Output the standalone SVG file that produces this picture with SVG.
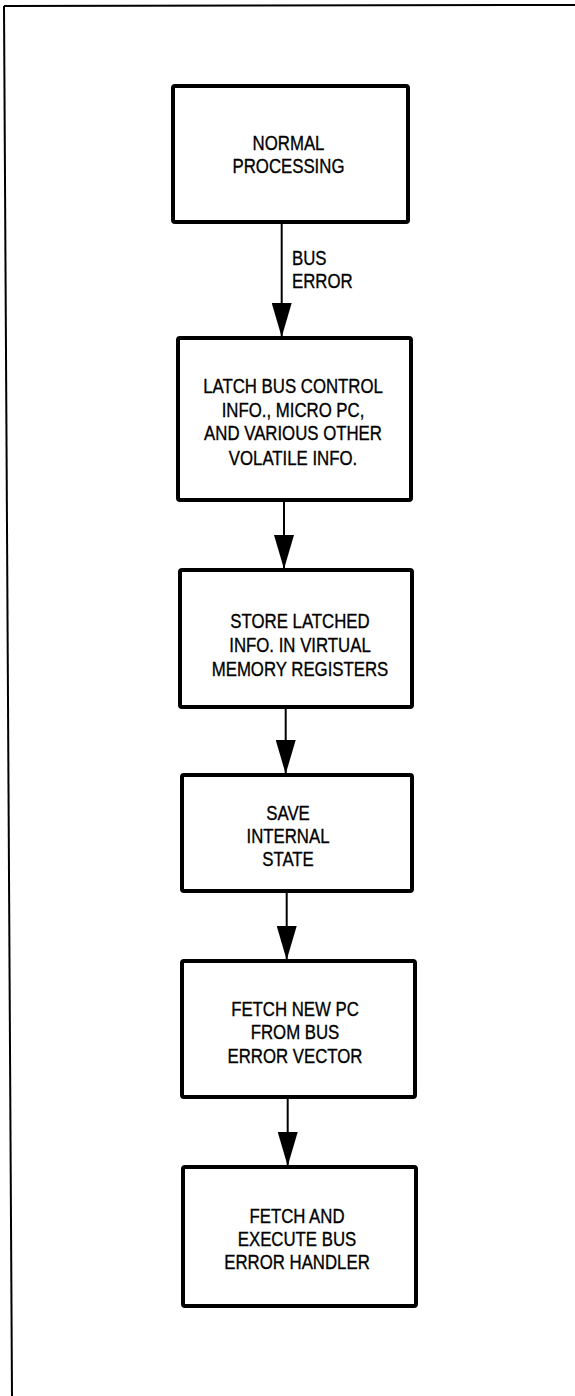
<svg xmlns="http://www.w3.org/2000/svg" width="575" height="1396" viewBox="0 0 575 1396">
  <style>
    .box { fill: #ffffff; stroke: #000000; stroke-width: 4; stroke-linejoin: round; }
    .frame { fill: none; stroke: #000000; stroke-width: 2; }
    .wire { fill: none; stroke: #000000; stroke-width: 2; }
    .lbl { font-family: "Liberation Sans", Arial, sans-serif; font-size: 21px; fill: #000000; stroke: #000000; stroke-width: 0.35; }
    .mid { text-anchor: middle; }
  </style>
  <defs>
    <marker id="head" markerUnits="userSpaceOnUse" markerWidth="34" markerHeight="20" viewBox="0 -10 34 20" refX="34" refY="0" orient="auto">
      <path d="M0,-10 L34,0 L0,10 Z" fill="#000000"/>
    </marker>
  </defs>
  <rect x="0" y="0" width="575" height="1396" fill="#ffffff"/>

  <!-- page frame -->
  <g id="frame">
    <line class="frame" x1="4" y1="6" x2="575" y2="5"/>
    <line class="frame" x1="4" y1="6" x2="12" y2="1396"/>
  </g>

  <!-- connectors -->
  <g id="connectors">
    <line class="wire" x1="281.7" y1="224" x2="281.7" y2="337" marker-end="url(#head)"/>
    <line class="wire" x1="284" y1="502" x2="284" y2="569" marker-end="url(#head)"/>
    <line class="wire" x1="285.7" y1="709" x2="285.7" y2="774" marker-end="url(#head)"/>
    <line class="wire" x1="286.7" y1="893" x2="286.7" y2="960" marker-end="url(#head)"/>
    <line class="wire" x1="287.7" y1="1099" x2="287.7" y2="1166" marker-end="url(#head)"/>
    <g transform="translate(292 0) scale(0.8 1)">
      <text class="lbl" x="0" y="265">BUS</text>
      <text class="lbl" x="0" y="288">ERROR</text>
    </g>
  </g>

  <g id="normal-processing">
    <rect class="box" x="173" y="86" width="235" height="136" rx="2"/>
    <g transform="translate(288.5 0) scale(0.8 1)">
      <text class="lbl mid" x="0" y="150">NORMAL</text>
      <text class="lbl mid" x="0" y="173">PROCESSING</text>
    </g>
  </g>

  <g id="latch-info">
    <rect class="box" x="178" y="338" width="233" height="162" rx="2"/>
    <g transform="translate(293 0) scale(0.8 1)">
      <text class="lbl mid" x="0" y="393">LATCH BUS CONTROL</text>
      <text class="lbl mid" x="0" y="417">INFO., MICRO PC,</text>
      <text class="lbl mid" x="0" y="440">AND VARIOUS OTHER</text>
      <text class="lbl mid" x="0" y="465">VOLATILE INFO.</text>
    </g>
  </g>

  <g id="store-latched">
    <rect class="box" x="180" y="570" width="232" height="137" rx="2"/>
    <g transform="translate(300 0) scale(0.8 1)">
      <text class="lbl mid" x="0" y="628">STORE LATCHED</text>
      <text class="lbl mid" x="0" y="652">INFO. IN VIRTUAL</text>
      <text class="lbl mid" x="0" y="676">MEMORY REGISTERS</text>
    </g>
  </g>

  <g id="save-state">
    <rect class="box" x="182" y="775" width="230" height="116" rx="2"/>
    <g transform="translate(288 0) scale(0.8 1)">
      <text class="lbl mid" x="0" y="820">SAVE</text>
      <text class="lbl mid" x="0" y="843">INTERNAL</text>
      <text class="lbl mid" x="0" y="866">STATE</text>
    </g>
  </g>

  <g id="fetch-pc">
    <rect class="box" x="182" y="961" width="233" height="136" rx="2"/>
    <g transform="translate(295 0) scale(0.8 1)">
      <text class="lbl mid" x="0" y="1016">FETCH NEW PC</text>
      <text class="lbl mid" x="0" y="1039">FROM BUS</text>
      <text class="lbl mid" x="0" y="1063">ERROR VECTOR</text>
    </g>
  </g>

  <g id="run-handler">
    <rect class="box" x="183" y="1167" width="233" height="139" rx="2"/>
    <g transform="translate(297 0) scale(0.8 1)">
      <text class="lbl mid" x="0" y="1223">FETCH AND</text>
      <text class="lbl mid" x="0" y="1246">EXECUTE BUS</text>
      <text class="lbl mid" x="0" y="1269">ERROR HANDLER</text>
    </g>
  </g>
</svg>
